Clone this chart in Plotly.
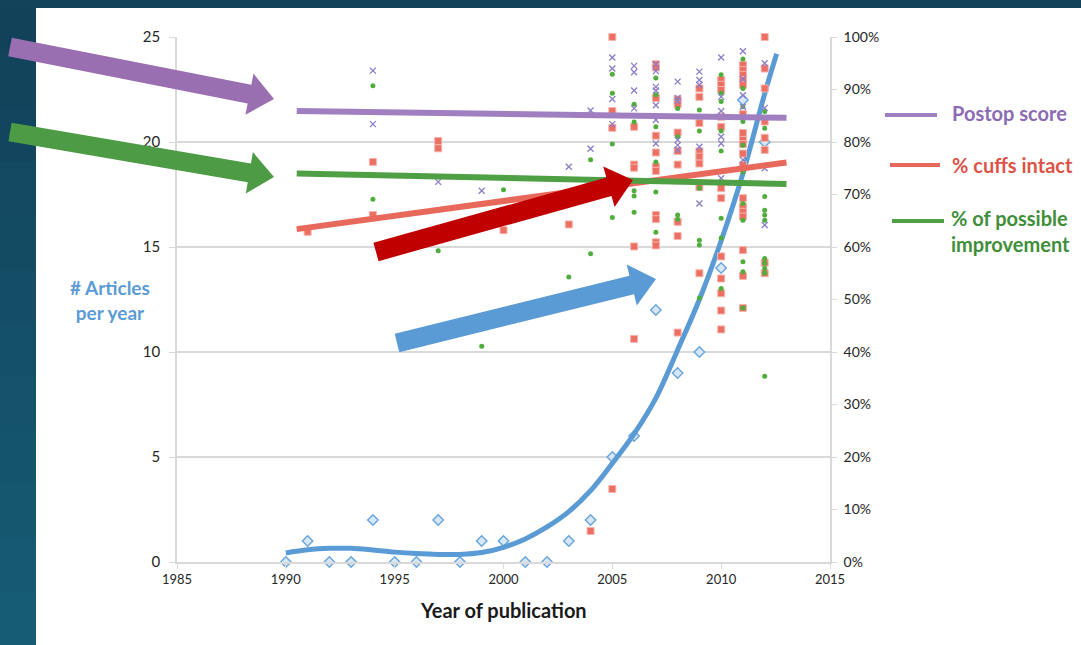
import numpy as np
import plotly.graph_objects as go

# ---------------- data ----------------
article_years = list(range(1990, 2013))
articles = [0, 1, 0, 0, 2, 0, 0, 2, 0, 1, 1, 0, 0, 1, 2, 5, 6, 12, 9, 10, 14, 22, 20]

# polynomial trendline of articles
articles_trend_years = [1990, 1991, 1992, 1993, 1994, 1995, 1996, 1997, 1998, 1999, 2000,
                        2001, 2002, 2003, 2004, 2005, 2006, 2007, 2008, 2009, 2010, 2011,
                        2012, 2012.55]
articles_trend = [0.43, 0.58, 0.65, 0.65, 0.57, 0.47, 0.40, 0.36, 0.36, 0.45, 0.70,
                  1.10, 1.67, 2.40, 3.40, 4.70, 6.10, 7.80, 10.1, 12.5, 15.3, 18.5,
                  22.3, 24.2]

# Postop score (%), per year
postop = {
    1994: [93.6, 83.4],
    1997: [72.4],
    1999: [70.7],
    2003: [75.3],
    2004: [86.0, 78.7],
    2005: [96.1, 94.0, 88.2, 83.4],
    2006: [94.5, 93.3, 89.8, 86.4],
    2007: [94.8, 93.5, 90.5, 89.8, 87.0, 84.2, 79.7],
    2008: [91.5, 88.4, 87.8, 80.4, 79.4, 78.5],
    2009: [93.4, 91.8, 90.9, 79.1, 68.3],
    2010: [96.1, 88.6, 85.9, 81.0, 79.7, 73.1],
    2011: [97.3, 92.0, 88.9, 86.7, 76.6],
    2012: [95.0, 86.5, 75.0, 64.2],
}

# % cuffs intact, per year
cuffs = {
    1991: [62.9],
    1994: [76.2, 66.1],
    1997: [80.2, 78.8],
    2000: [63.2],
    2003: [64.3],
    2004: [5.9],
    2005: [100.0, 85.9, 82.7, 13.9],
    2006: [82.9, 75.7, 75.1, 60.1, 42.5],
    2007: [94.8, 94.2, 88.4, 81.2, 78.0, 75.3, 74.5, 66.1, 65.3, 60.9, 60.3],
    2008: [88.1, 87.2, 81.8, 78.3, 75.7, 64.8, 62.1, 43.7],
    2009: [90.2, 88.6, 83.6, 78.2, 77.2, 75.9, 71.4, 55.0],
    2010: [91.8, 90.9, 89.9, 84.8, 82.9, 71.2, 69.3, 58.2, 54.0, 51.2, 47.9, 44.3],
    2011: [94.7, 93.7, 92.8, 91.8, 90.9, 85.3, 81.7, 80.4, 79.6, 77.8, 75.6, 69.3,
           67.7, 66.7, 65.8, 59.4, 54.5, 48.4],
    2012: [100.0, 94.0, 90.2, 83.9, 80.8, 78.5, 57.0, 55.0],
}

# % of possible improvement, per year
improve = {
    1994: [90.7, 69.1],
    1997: [59.3],
    1999: [41.1],
    2000: [70.9],
    2003: [54.3],
    2004: [76.6, 58.7],
    2005: [92.9, 89.3, 79.6, 65.6],
    2006: [87.2, 83.8, 70.7, 69.7, 66.6],
    2007: [92.2, 89.0, 82.9, 76.2, 70.5, 62.8],
    2008: [86.4, 81.0, 66.1, 65.3],
    2009: [86.1, 82.1, 71.2, 61.3, 60.4, 50.3],
    2010: [92.8, 89.3, 87.7, 82.1, 78.3, 65.5, 61.7, 52.1],
    2011: [95.8, 90.2, 86.7, 83.9, 79.4, 74.3, 68.3, 65.1, 57.2, 55.3, 48.4],
    2012: [85.8, 82.6, 69.6, 67.0, 66.1, 65.1, 57.8, 56.9, 55.9, 55.0, 35.4],
}

# linear trendlines
trend_x = [1990.5, 2013]
postop_trend = [85.9, 84.6]
cuffs_trend = [63.4, 76.1]
improve_trend = [74.0, 72.0]

x_ticks = [1985, 1990, 1995, 2000, 2005, 2010, 2015]

# ---------------- styling ----------------
FONT = "Lato"
RED = "#e8695b"
GREEN = "#4f9f45"
BLUE = "#5b9bd5"
GRID = "#d9d9d9"

W, H = 1081, 645
L, R, T, B = 177, 830, 37, 562  # plot area in pixels


def P(x, y):
    return (x - L) / (R - L), (B - y) / (B - T)


def flat(d):
    xs, ys = [], []
    for yr, vals in d.items():
        for v in vals:
            xs.append(yr)
            ys.append(v / 100)
    return xs, ys


fig = go.Figure()

cx, cy = flat(cuffs)
fig.add_trace(go.Scatter(x=cx, y=cy, yaxis="y2", mode="markers", cliponaxis=False,
                         marker=dict(symbol="square", size=7, color="#ec6f63",
                                     line=dict(color="#f6b3ab", width=1))))
ix, iy = flat(improve)
fig.add_trace(go.Scatter(x=ix, y=iy, yaxis="y2", mode="markers", cliponaxis=False,
                         marker=dict(symbol="circle", size=5, color="#4fae3b")))
px_, py_ = flat(postop)
fig.add_trace(go.Scatter(x=px_, y=py_, yaxis="y2", mode="markers", cliponaxis=False,
                         marker=dict(symbol="x-thin-open", size=6, color="#8c7cc6",
                                     line=dict(width=1.3, color="#8c7cc6"))))
fig.add_trace(go.Scatter(x=article_years, y=articles, mode="markers", cliponaxis=False,
                         marker=dict(symbol="diamond", size=8, color="#d8e7f6",
                                     line=dict(color="#6aa6dc", width=1.5))))

# trendlines
fig.add_trace(go.Scatter(x=trend_x, y=[v / 100 for v in cuffs_trend], yaxis="y2", mode="lines",
                         line=dict(color=RED, width=6)))
fig.add_trace(go.Scatter(x=trend_x, y=[v / 100 for v in improve_trend], yaxis="y2", mode="lines",
                         line=dict(color=GREEN, width=6)))
fig.add_trace(go.Scatter(x=trend_x, y=[v / 100 for v in postop_trend], yaxis="y2", mode="lines",
                         line=dict(color="#a07fc0", width=6)))
fig.add_trace(go.Scatter(x=articles_trend_years, y=articles_trend, mode="lines", cliponaxis=False,
                         line=dict(color=BLUE, width=5, shape="spline", smoothing=1.0)))

shapes = []
# dark background strips (gradient on left)
n = 12
c0 = np.array([0x12, 0x42, 0x5a])
c1 = np.array([0x17, 0x5c, 0x75])
for i in range(n):
    y0 = H * i / n
    y1 = H * (i + 1) / n
    c = c0 + (c1 - c0) * (i / (n - 1))
    col = "rgb(%d,%d,%d)" % tuple(c.astype(int))
    a = P(0, y0)
    b = P(36, y1 + 1)
    shapes.append(dict(type="rect", xref="paper", yref="paper", x0=a[0], x1=b[0], y0=a[1], y1=b[1],
                       fillcolor=col, line=dict(width=0), layer="below"))
a = P(0, 0)
b = P(W, 8)
shapes.append(dict(type="rect", xref="paper", yref="paper", x0=a[0], x1=b[0], y0=a[1], y1=b[1],
                   fillcolor="#12435b", line=dict(width=0), layer="below"))


def arrow(tail, tip, color, w=19, hw=42, hl=25):
    t = np.array(tail, float)
    p = np.array(tip, float)
    u = (p - t) / np.linalg.norm(p - t)
    nrm = np.array([-u[1], u[0]])
    base = p - hl * u
    pts = [t + nrm * w / 2, base + nrm * w / 2, base + nrm * hw / 2, p,
           base - nrm * hw / 2, base - nrm * w / 2, t - nrm * w / 2]
    path = "M " + " L ".join("%.5f,%.5f" % P(*q) for q in pts) + " Z"
    return dict(type="path", xref="paper", yref="paper", path=path, fillcolor=color,
                line=dict(width=0), layer="above")


shapes.append(arrow((10, 47), (274, 99), "#9a6fb1"))
shapes.append(arrow((10, 132), (274, 177), "#4d9b45"))
shapes.append(arrow((376, 252), (633, 180), "#c00000"))
shapes.append(arrow((397, 343), (656, 279), "#5a9bd5"))

# custom legend lines
for (x0, x1, yy, col) in [(885, 937, 115, "#a07fc0"), (890, 940, 165, RED), (892, 944, 221, GREEN)]:
    a = P(x0, yy)
    b = P(x1, yy)
    shapes.append(dict(type="line", xref="paper", yref="paper", x0=a[0], x1=b[0], y0=a[1], y1=b[1],
                       line=dict(color=col, width=4)))

annotations = []
for (x, y, txt, col) in [(950, 113, "Postop score", "#8b6bb3"),
                         (950, 165, "% cuffs intact", "#dc5447"),
                         (949, 231, "% of possible<br>improvement", "#3f8f3a")]:
    a = P(x, y)
    annotations.append(dict(x=a[0], y=a[1], xref="paper", yref="paper", text="<b>%s</b>" % txt,
                            showarrow=False, xanchor="left", yanchor="middle", align="left",
                            font=dict(family=FONT, size=20, color=col)))
a = P(110, 300)
annotations.append(dict(x=a[0], y=a[1], xref="paper", yref="paper", text="<b># Articles<br>per year</b>",
                        showarrow=False, xanchor="center", yanchor="middle", align="center",
                        font=dict(family=FONT, size=19, color="#5b9bd5")))
a = P(504, 610)
annotations.append(dict(x=a[0], y=a[1], xref="paper", yref="paper", text="<b>Year of publication</b>",
                        showarrow=False, xanchor="center", yanchor="middle",
                        font=dict(family=FONT, size=20, color="#1a1a1a")))

fig.update_layout(
    width=W, height=H,
    margin=dict(l=L, r=W - R, t=T, b=H - B, autoexpand=False),
    paper_bgcolor="white", plot_bgcolor="white",
    showlegend=False,
    hovermode=False,
    font=dict(family=FONT, color="#262626"),
    xaxis=dict(range=[1985, 2015], tickvals=x_ticks, showgrid=False, zeroline=False,
               showline=True, linecolor=GRID, linewidth=1.5, ticks="outside", ticklen=5,
               tickcolor=GRID, tickfont=dict(size=13, family=FONT, color="#262626")),
    yaxis=dict(range=[0, 25], dtick=5, showgrid=True, gridcolor=GRID, gridwidth=1.5, zeroline=False,
               showline=True, linecolor=GRID, linewidth=1.5, ticks="outside", ticklen=6,
               tickcolor=GRID, tickfont=dict(size=15, family=FONT, color="#262626"),
               ticklabelstandoff=6),
    yaxis2=dict(range=[0, 1], dtick=0.1, tickformat=".0%", overlaying="y", side="right",
                showgrid=False, zeroline=False, showline=True, linecolor=GRID, linewidth=1.5,
                ticks="outside", ticklen=5, tickcolor=GRID,
                tickfont=dict(size=14, family=FONT, color="#262626"), ticklabelstandoff=4),
    shapes=shapes,
    annotations=annotations,
)

fig.write_html("out.html",
               config={"displayModeBar": False},
               post_script="document.body.style.margin='0';document.body.style.overflow='hidden';")
